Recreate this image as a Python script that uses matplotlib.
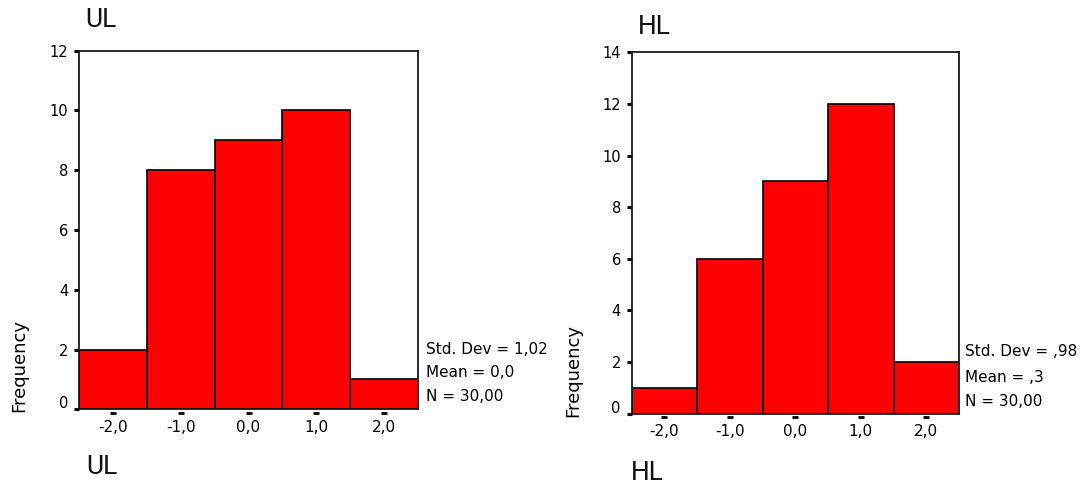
import matplotlib
matplotlib.use("Agg")
import matplotlib.pyplot as plt
import matplotlib.transforms as mtransforms

# ---- data ----
bin_centers = [-2.0, -1.0, 0.0, 1.0, 2.0]
bin_width = 1.0
xtick_labels = ["-2,0", "-1,0", "0,0", "1,0", "2,0"]

ul_counts = [2, 8, 9, 10, 1]
ul_yticks = [0, 2, 4, 6, 8, 10, 12]
ul_stats = ["Std. Dev = 1,02", "Mean = 0,0", "N = 30,00"]

hl_counts = [1, 6, 9, 12, 2]
hl_yticks = [0, 2, 4, 6, 8, 10, 12, 14]
hl_stats = ["Std. Dev = ,98", "Mean = ,3", "N = 30,00"]

W, H = 1082, 484
fig = plt.figure(figsize=(W / 100, H / 100), dpi=100)
fig.patch.set_facecolor("white")

TICK_FONT = "DejaVu Sans"
TITLE_FONT = "Roboto"


def px(x, y):
    return x / W, 1 - y / H


def panel(rect_px, counts, yticks, stats, stats_pos, title, title_top, title_bot,
          freq_pos):
    l, t, r, b = rect_px
    ax = fig.add_axes([l / W, 1 - b / H, (r - l) / W, (b - t) / H])
    ax.bar(bin_centers, counts, width=bin_width, color="#ff0000",
           edgecolor="black", linewidth=1.2, zorder=2)
    ax.set_xlim(bin_centers[0] - bin_width / 2, bin_centers[-1] + bin_width / 2)
    ax.set_ylim(yticks[0], yticks[-1])
    for s in ax.spines.values():
        s.set_color("#1a1a1a")
        s.set_linewidth(1.3)
    # y ticks
    ax.set_yticks(yticks)
    ax.set_yticklabels([str(v) for v in yticks], fontsize=10.5, family=TICK_FONT)
    ax.tick_params(axis="y", direction="out", length=3.8, width=2.2, pad=4.0,
                   color="black")
    # shift the zero label up a little (SPSS style)
    lab0 = ax.get_yticklabels()[0]
    lab0.set_transform(lab0.get_transform() +
                       mtransforms.ScaledTranslation(0, 7 / 100, fig.dpi_scale_trans))
    # x ticks: detached horizontal dashes below the axis
    ax.set_xticks(bin_centers)
    ax.set_xticklabels(xtick_labels, fontsize=11, family=TICK_FONT)
    ax.tick_params(axis="x", length=0, pad=7.5)
    dash_tr = mtransforms.offset_copy(ax.get_xaxis_transform(), fig=fig,
                                      x=0, y=-3.5, units="dots")
    ax.plot(bin_centers, [0] * len(bin_centers), linestyle="none", marker="_",
            markersize=4.5, markeredgewidth=2.0, color="black",
            transform=dash_tr, clip_on=False)
    # stats text
    sx, sys_ = stats_pos
    for s, yy in zip(stats, sys_):
        fig.text(*px(sx, yy), s, fontsize=11, family=TICK_FONT,
                 ha="left", va="center", color="black")
    # titles
    fig.text(*px(*title_top), title, fontsize=19, family=TITLE_FONT,
             ha="left", va="center", color="#111111")
    fig.text(*px(*title_bot), title, fontsize=19, family=TITLE_FONT,
             ha="left", va="center", color="#111111")
    # frequency label
    fig.text(*px(*freq_pos), "Frequency", fontsize=13, family=TICK_FONT,
             rotation=90, ha="center", va="center", color="black")
    return ax


panel((79.3, 50.7, 417.7, 409.3), ul_counts, ul_yticks, ul_stats,
      (425.5, [349.3, 372.7, 396.7]), "UL", (85, 19.7), (86, 467.5), (19, 366))
panel((631.7, 52.3, 959.0, 413.7), hl_counts, hl_yticks, hl_stats,
      (965, [351.7, 377.3, 401.7]), "HL", (638, 27.3), (631, 472.5), (573, 370.5))

fig.savefig("out.png", dpi=100, facecolor="white")
